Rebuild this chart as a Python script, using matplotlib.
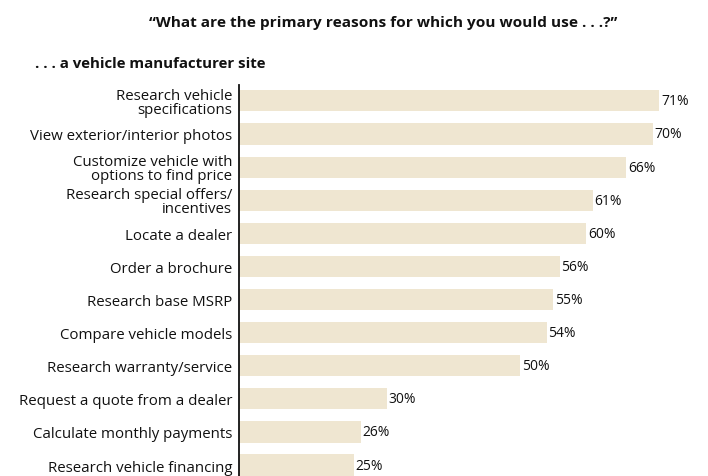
import matplotlib
matplotlib.use("Agg")
import matplotlib.pyplot as plt

categories = [
    "Research vehicle\nspecifications",
    "View exterior/interior photos",
    "Customize vehicle with\noptions to find price",
    "Research special offers/\nincentives",
    "Locate a dealer",
    "Order a brochure",
    "Research base MSRP",
    "Compare vehicle models",
    "Research warranty/service",
    "Request a quote from a dealer",
    "Calculate monthly payments",
    "Research vehicle financing",
]
values = [71, 70, 66, 61, 60, 56, 55, 54, 50, 30, 26, 25]
value_labels = [f"{v}%" for v in values]

title = "\u201cWhat are the primary reasons for which you would use . . .?\u201d"
subtitle = ". . . a vehicle manufacturer site"

plt.rcParams['font.family'] = ['Open Sans', 'DejaVu Sans']

fig = plt.figure(figsize=(7.08, 4.77), dpi=100)
ax = fig.add_axes([239/708, 0.0, (700-239)/708, 1 - 86/477])

bar_color = "#EFE6D1"
pos = list(range(len(values)))
ax.barh(pos, values, height=0.64, color=bar_color, edgecolor="none")
ax.set_ylim(11.33, -0.48)
ax.set_xlim(7.7, 77.1)

for p, v, lab in zip(pos, values, value_labels):
    ax.text(v + 0.25, p, lab, va="center", ha="left", fontsize=10, color="#111111")

ax.set_yticks(pos)
ax.set_yticklabels(categories, fontsize=10.8, color="#111111", linespacing=0.92)
ax.tick_params(axis="y", length=0, pad=5)
ax.set_xticks([])
for s in ["top", "right", "bottom"]:
    ax.spines[s].set_visible(False)
ax.spines["left"].set_linewidth(1.3)
ax.spines["left"].set_color("#111111")
for lbl in ax.get_yticklabels():
    lbl.set_multialignment("right")

fig.text(383/708, 1 - 23/477, title, ha="center", va="center",
         fontsize=11.1, fontweight="bold", color="#111111")
fig.text(35/708, 1 - 64/477, subtitle, ha="left", va="center",
         fontsize=10.8, fontweight="bold", color="#111111")

fig.savefig("out.png", dpi=100)
